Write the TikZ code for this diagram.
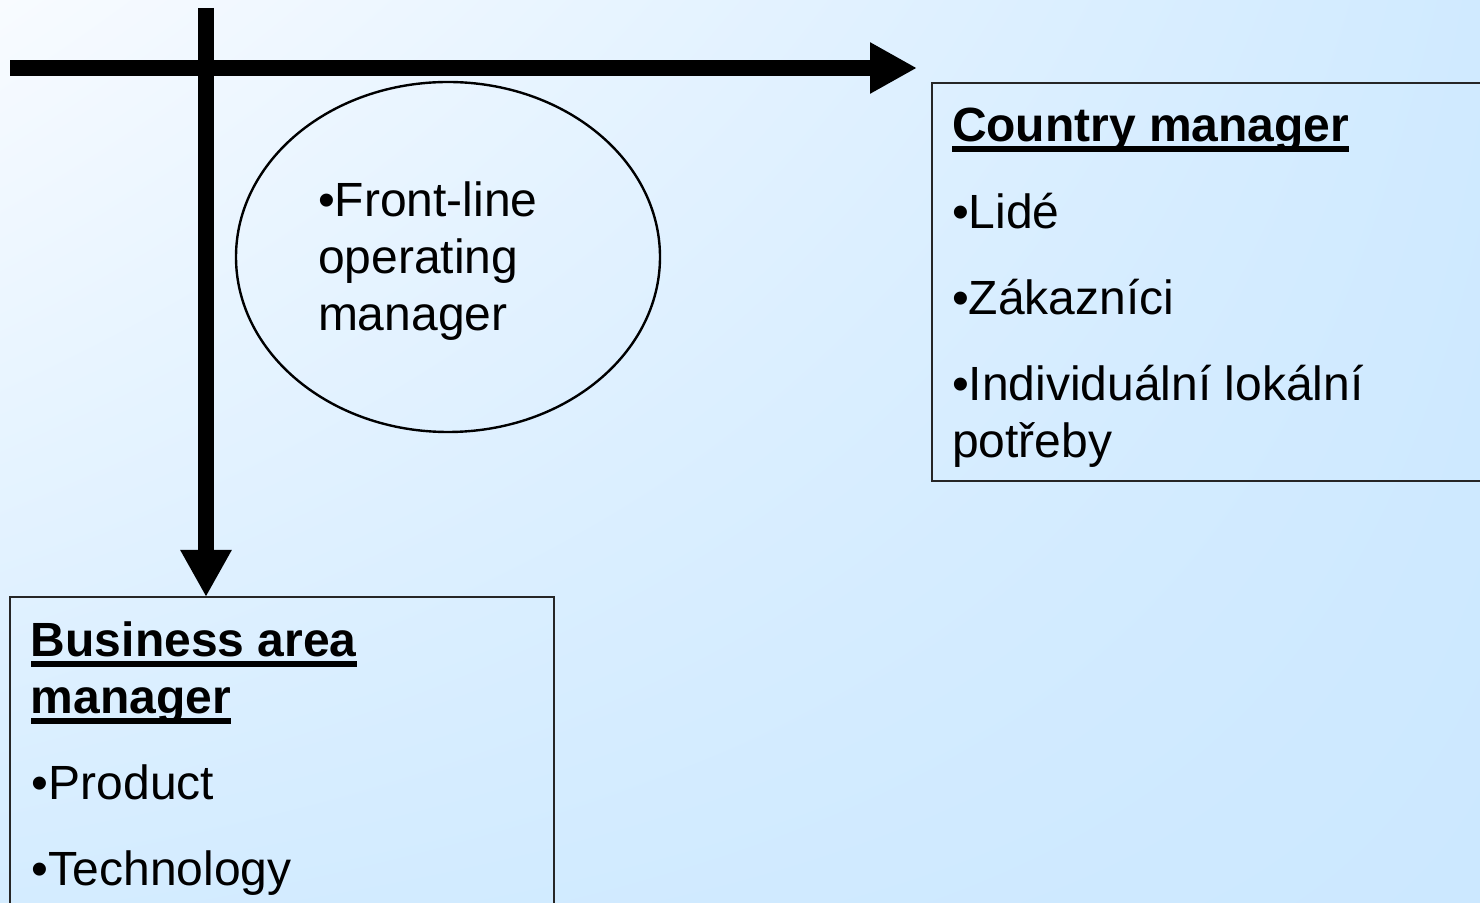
\documentclass[tikz,border=0pt]{standalone}
\usepackage{fontspec}
\setmainfont{Liberation Sans}
\usetikzlibrary{arrows.meta,shapes.geometric,shadings}
\definecolor{bgUL}{HTML}{F8FBFF}
\definecolor{bgUR}{HTML}{D0EAFF}
\definecolor{bgLL}{HTML}{D4ECFF}
\definecolor{bgLR}{HTML}{CCE8FF}
\definecolor{boxline}{HTML}{262626}
\tikzset{
  box/.style={draw=boxline, line width=0.75pt, rectangle, inner sep=0pt, outer sep=0pt, anchor=north west},
  txt/.style={anchor=base west, inner sep=0pt, outer sep=0pt, font=\fontsize{24pt}{28.5pt}\selectfont},
  hdr/.style={anchor=base west, inner sep=0pt, outer sep=0pt, font=\fontsize{24pt}{28.5pt}\selectfont\bfseries},
  bigarrow/.style={line width=8pt, -{Triangle[length=23.5pt,width=24pt]}},
  oval/.style={draw=black, ellipse, line width=1.2pt, inner sep=0pt, outer sep=0pt}
}
\begin{document}
\begin{tikzpicture}[x=0.5pt,y=-0.5pt]
\clip (0,0) rectangle (1480,903);
\shade[upper left=bgUL, upper right=bgUR, lower left=bgLL, lower right=bgLR] (0,0) rectangle (1480,903);

% boxes
\node[box, minimum width=290pt, minimum height=199pt] (country) at (932,83) {};
\node[box, minimum width=272pt, minimum height=170pt] (business) at (10,597) {};
\node[oval, minimum width=212pt, minimum height=175pt] (front) at (448,257) {};

% arrows
\coordinate (hstart) at (10,68);
\coordinate (htip) at (917,68);
\coordinate (vstart) at (206,8);
\draw[bigarrow] (hstart) -- (htip);
\draw[bigarrow] (vstart) -- (vstart |- business.north);

% country manager text
\node[hdr] (cm) at (952,142) {Country manager};
\fill ([yshift=-2.25pt]cm.base west) rectangle ([yshift=-5pt]cm.base east);
\node[txt] (c1) at (952,229) {•Lidé};
\node[txt] (c2) at (952,315) {•Zákazníci};
\node[txt] (c3) at (952,401) {•Individuální lokální};
\node[txt] (c4) at (952,458) {potřeby};

% business area manager text
\node[hdr] (b1) at (31,657) {Business area};
\fill ([yshift=-2.25pt]b1.base west) rectangle ([yshift=-5pt]b1.base east);
\node[hdr] (b2) at (31,714) {manager};
\fill ([yshift=-2.25pt]b2.base west) rectangle ([yshift=-5pt]b2.base east);
\node[txt] (b3) at (32,799) {•Product};
\node[txt] (b4) at (32,885) {•Technology};

% ellipse text
\node[txt] (f1) at (318,217) {•Front-line};
\node[txt] (f2) at (318,274) {operating};
\node[txt] (f3) at (318,331) {manager};
\end{tikzpicture}
\end{document}
